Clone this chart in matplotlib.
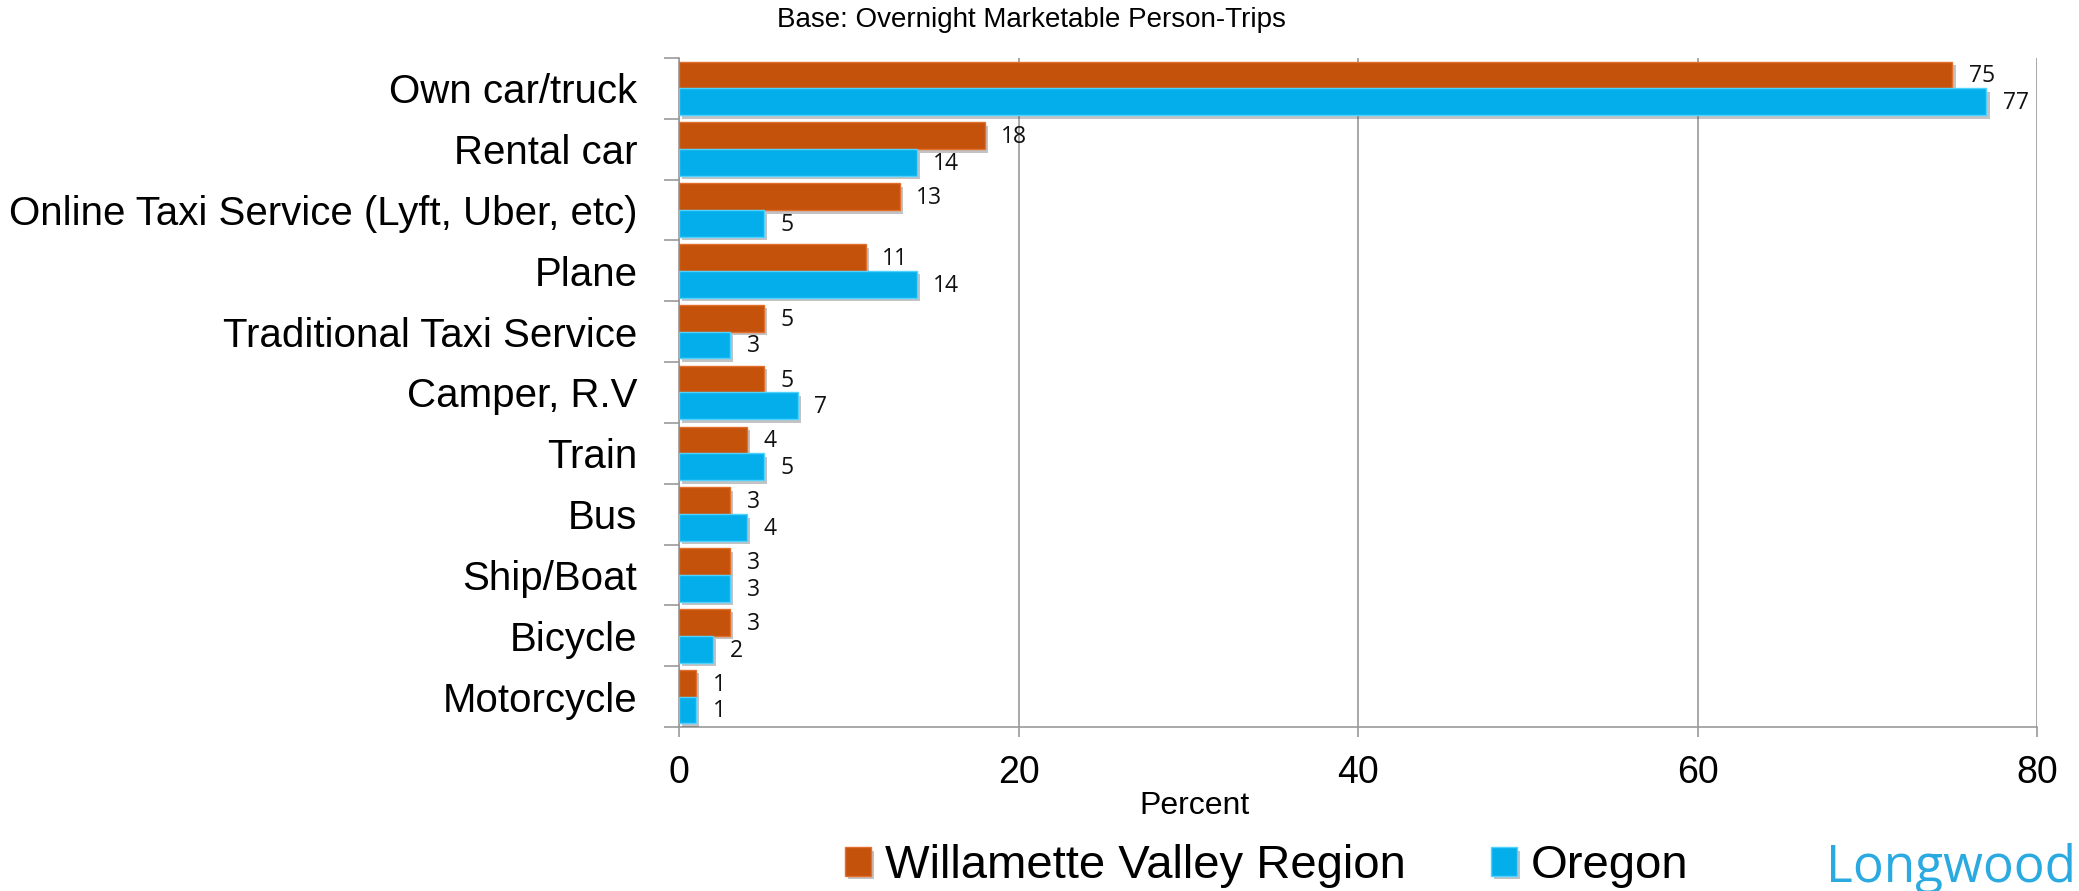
import matplotlib
matplotlib.use("Agg")
import matplotlib.pyplot as plt
import matplotlib.patheffects as pe
from matplotlib import font_manager
import numpy as np

# Mode of transportation, share of overnight marketable person-trips (%)
categories = [
    "Own car/truck",
    "Rental car",
    "Online Taxi Service (Lyft, Uber, etc)",
    "Plane",
    "Traditional Taxi Service",
    "Camper, R.V",
    "Train",
    "Bus",
    "Ship/Boat",
    "Bicycle",
    "Motorcycle",
]
willamette = [75, 18, 13, 11, 5, 5, 4, 3, 3, 3, 1]
oregon = [77, 14, 5, 14, 3, 7, 5, 4, 3, 2, 1]
series_names = ["Willamette Valley Region", "Oregon"]
x_ticks = [0, 20, 40, 60, 80]

ORANGE = "#C4520B"
ORANGE_RIM = "#E2702A"
BLUE = "#04AEEA"
BLUE_RIM = "#4FD2FF"
GRID = "#9A9A9A"
TEXT_FONT = ["Liberation Sans", "DejaVu Sans"]
LABEL_FONT = ["Open Sans", "DejaVu Sans"]


def has_font(name):
    try:
        font_manager.findfont(font_manager.FontProperties(family=name),
                              fallback_to_default=False)
        return True
    except ValueError:
        return False


# Category names use a condensed face when one is available
if has_font("Liberation Sans Narrow"):
    CAT_FONT, CAT_SIZE = ["Liberation Sans Narrow", "Liberation Sans"], 33
else:
    CAT_FONT, CAT_SIZE = TEXT_FONT, 29

fig = plt.figure(figsize=(20.79, 8.91), dpi=100)
ax = fig.add_axes([679 / 2079, 1 - 727 / 891, 1358 / 2079, 669 / 891])

y = np.arange(len(categories))
h = 0.44
shadow = [pe.SimplePatchShadow(offset=(2.5, -2.5), shadow_rgbFace="#555555", alpha=0.35),
          pe.Normal()]

bars_w = ax.barh(y - h / 2, willamette, height=h, color=ORANGE,
                 edgecolor=ORANGE_RIM, linewidth=1.0, zorder=3, label=series_names[0])
bars_o = ax.barh(y + h / 2, oregon, height=h, color=BLUE,
                 edgecolor=BLUE_RIM, linewidth=1.0, zorder=3, label=series_names[1])
for b in list(bars_w) + list(bars_o):
    b.set_path_effects(shadow)

for bars, vals in ((bars_w, willamette), (bars_o, oregon)):
    for b, v in zip(bars, vals):
        ax.annotate(f"{v:g}", xy=(v, b.get_y() + b.get_height() / 2),
                    xytext=(12, -1), textcoords="offset points",
                    ha="left", va="center", fontsize=16.5,
                    family=LABEL_FONT, color="#111111", zorder=4)

ax.set_xlim(0, 80)
ax.set_ylim(len(categories) - 0.5, -0.5)

ax.set_xticks(x_ticks)
ax.set_xticklabels([str(t) for t in x_ticks], family=TEXT_FONT, fontsize=27)
ax.tick_params(axis="x", direction="out", length=7, width=1.2, color=GRID, pad=13)

ax.set_yticks(y)
ax.set_yticklabels(categories, family=CAT_FONT, fontsize=CAT_SIZE)
ax.set_yticks(np.arange(len(categories) + 1) - 0.5, minor=True)
ax.tick_params(axis="y", which="major", length=0, pad=30)
ax.tick_params(axis="y", which="minor", direction="out", length=11, width=1.2, color=GRID)

ax.grid(axis="x", color=GRID, linewidth=1.2, zorder=0)
ax.set_axisbelow(True)
for side in ("top", "right"):
    ax.spines[side].set_visible(False)
for side in ("left", "bottom"):
    ax.spines[side].set_color(GRID)
    ax.spines[side].set_linewidth(1.2)

fig.text(1031 / 2079, 1 - 20 / 891, "Base: Overnight Marketable Person-Trips",
         ha="center", va="center", family=TEXT_FONT, fontsize=20)
fig.text(1194 / 2079, 1 - 806 / 891, "Percent",
         ha="center", va="center", family=TEXT_FONT, fontsize=23)

leg = fig.legend(handles=[bars_w, bars_o], labels=series_names,
                 loc="center left", bbox_to_anchor=(845 / 2079, 1 - 866 / 891),
                 ncol=2, frameon=False, borderpad=0, borderaxespad=0,
                 handlelength=0.55, handleheight=0.55, handletextpad=0.3,
                 columnspacing=1.8, prop={"family": TEXT_FONT, "size": 34})

fig.text(1826 / 2079, 1 - 868 / 891, "Longwood", ha="left", va="center",
         family=LABEL_FONT, fontsize=37, color="#2AAAE0")

fig.savefig("out.png", dpi=100)
